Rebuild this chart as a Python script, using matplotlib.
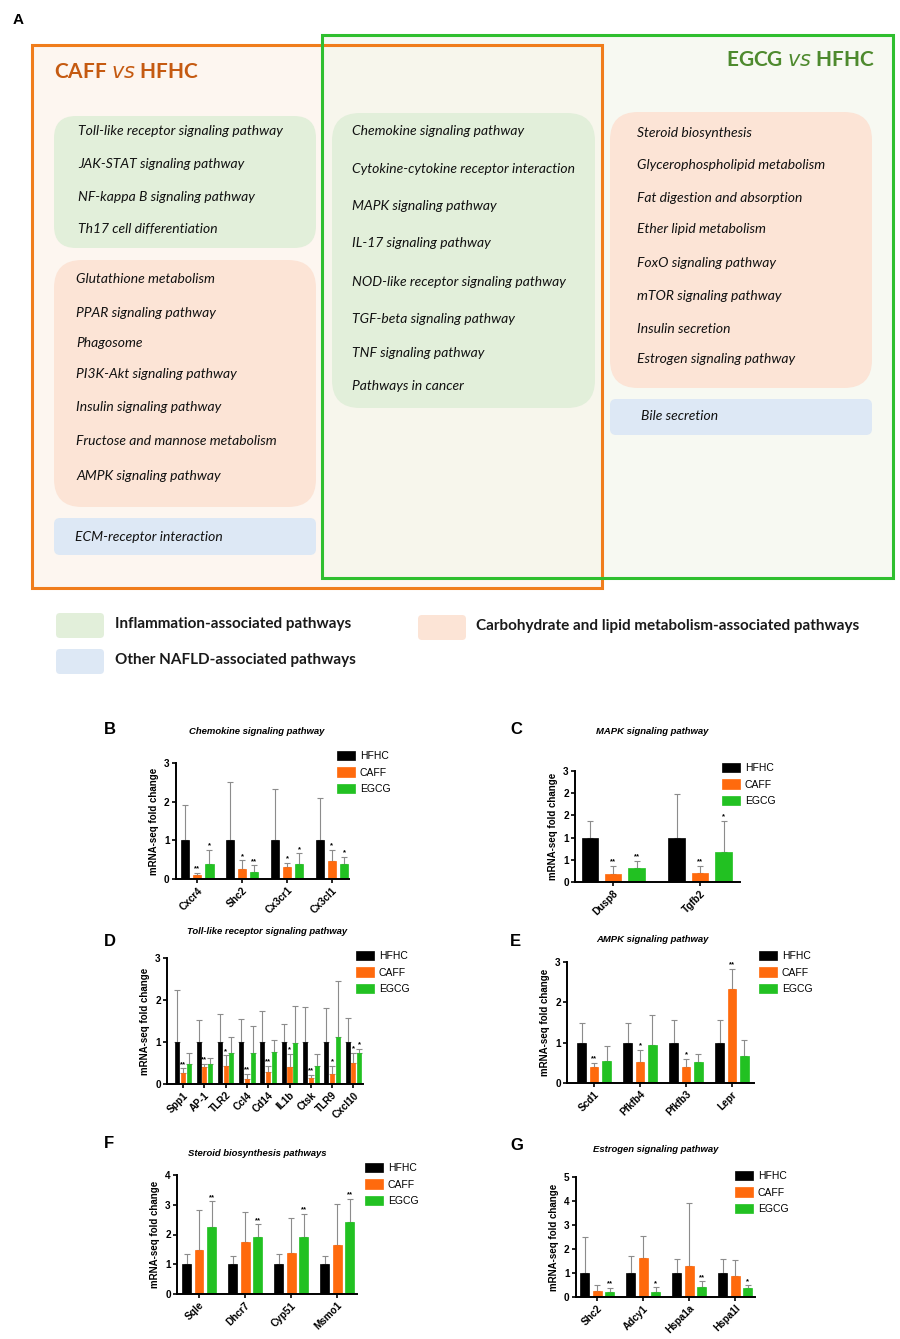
import numpy as np
import matplotlib.pyplot as plt
from matplotlib.patches import Rectangle, FancyBboxPatch

# ---------------- panel A text content ----------------
caff_inflam = ['Toll-like receptor signaling pathway', 'JAK-STAT signaling pathway',
               'NF-kappa B signaling pathway', 'Th17 cell differentiation']
caff_metab = ['Glutathione metabolism', 'PPAR signaling pathway', 'Phagosome',
              'PI3K-Akt signaling pathway', 'Insulin signaling pathway',
              'Fructose and mannose metabolism', 'AMPK signaling pathway']
caff_other = ['ECM-receptor interaction']
shared_inflam = ['Chemokine signaling pathway', 'Cytokine-cytokine receptor interaction',
                 'MAPK signaling pathway', 'IL-17 signaling pathway',
                 'NOD-like receptor signaling pathway', 'TGF-beta signaling pathway',
                 'TNF signaling pathway', 'Pathways in cancer']
egcg_metab = ['Steroid biosynthesis', 'Glycerophospholipid metabolism',
              'Fat digestion and absorption', 'Ether lipid metabolism',
              'FoxO signaling pathway', 'mTOR signaling pathway',
              'Insulin secretion', 'Estrogen signaling pathway']
egcg_other = ['Bile secretion']
legend_labels = ['Inflammation-associated pathways',
                 'Carbohydrate and lipid metabolism-associated pathways',
                 'Other NAFLD-associated pathways']

# ---------------- bar chart data (mean, upper SD) ----------------
groups = ['HFHC', 'CAFF', 'EGCG']

b_genes = ['Cxcr4', 'Shc2', 'Cx3cr1', 'Cx3cl1']
b_hfhc = [1, 1, 1, 1]
b_hfhc_sd = [0.92, 1.50, 1.34, 1.10]
b_caff = [0.10, 0.26, 0.30, 0.46]
b_caff_sd = [0.06, 0.22, 0.11, 0.30]
b_egcg = [0.38, 0.18, 0.40, 0.40]
b_egcg_sd = [0.38, 0.17, 0.26, 0.17]
b_caff_sig = ['**', '*', '*', '*']
b_egcg_sig = ['*', '**', '*', '*']

c_genes = ['Dusp8', 'Tgfb2']
c_hfhc = [1, 1]
c_hfhc_sd = [0.37, 0.99]
c_caff = [0.18, 0.20]
c_caff_sd = [0.19, 0.17]
c_egcg = [0.31, 0.67]
c_egcg_sd = [0.16, 0.70]
c_caff_sig = ['**', '**']
c_egcg_sig = ['**', '*']

d_genes = ['Spp1', 'AP-1', 'TLR2', 'Ccl4', 'Cd14', 'IL1b', 'Ctsk', 'TLR9', 'Cxcl10']
d_hfhc = [1, 1, 1, 1, 1, 1, 1, 1, 1]
d_hfhc_sd = [1.25, 0.53, 0.67, 0.54, 0.73, 0.42, 0.84, 0.82, 0.56]
d_caff = [0.27, 0.41, 0.44, 0.12, 0.29, 0.40, 0.15, 0.23, 0.49]
d_caff_sd = [0.10, 0.07, 0.24, 0.12, 0.14, 0.31, 0.06, 0.21, 0.26]
d_egcg = [0.47, 0.48, 0.73, 0.75, 0.77, 0.97, 0.44, 1.13, 0.75]
d_egcg_sd = [0.26, 0.15, 0.38, 0.63, 0.28, 0.89, 0.27, 1.33, 0.08]
d_caff_sig = ['**', '**', '*', '**', '**', '*', '**', '*', '*']
d_egcg_sig = ['', '', '', '', '', '', '', '', '*']

e_genes = ['Scd1', 'Pfkfb4', 'Pfkfb3', 'Lepr']
e_hfhc = [1, 1, 1, 1]
e_hfhc_sd = [0.49, 0.49, 0.57, 0.55]
e_caff = [0.40, 0.53, 0.40, 2.33]
e_caff_sd = [0.10, 0.30, 0.20, 0.49]
e_egcg = [0.54, 0.93, 0.53, 0.66]
e_egcg_sd = [0.37, 0.75, 0.18, 0.40]
e_caff_sig = ['**', '*', '*', '**']
e_egcg_sig = ['', '', '', '']

f_genes = ['Sqle', 'Dhcr7', 'Cyp51', 'Msmo1']
f_hfhc = [1, 1, 1, 1]
f_hfhc_sd = [0.33, 0.28, 0.33, 0.28]
f_caff = [1.47, 1.74, 1.39, 1.64]
f_caff_sd = [1.35, 1.00, 1.17, 1.38]
f_egcg = [2.24, 1.91, 1.90, 2.42]
f_egcg_sd = [0.87, 0.43, 0.80, 0.79]
f_caff_sig = ['', '', '', '']
f_egcg_sig = ['**', '**', '**', '**']

g_genes = ['Shc2', 'Adcy1', 'Hspa1a', 'Hspa1l']
g_hfhc = [1, 1, 1, 1]
g_hfhc_sd = [1.50, 0.70, 0.57, 0.58]
g_caff = [0.25, 1.63, 1.28, 0.86]
g_caff_sd = [0.23, 0.92, 2.64, 0.68]
g_egcg = [0.19, 0.21, 0.42, 0.38]
g_egcg_sd = [0.18, 0.19, 0.23, 0.10]
g_caff_sig = ['', '', '', '']
g_egcg_sig = ['**', '*', '**', '*']

W, H = 900, 1339
fig = plt.figure(figsize=(9, 13.39), dpi=100)

# ---------------- panel A (drawn in pixel coordinates) ----------------
axA = fig.add_axes([0, 0, 1, 1])
axA.set_xlim(0, W)
axA.set_ylim(H, 0)
axA.axis('off')

GREEN_FILL = '#e2efda'
ORANGE_FILL = '#fce4d6'
BLUE_FILL = '#dde8f5'

axA.add_patch(Rectangle((32, 45), 570, 543, fc='#fdf6f0', ec='none'))
axA.add_patch(Rectangle((322, 35), 571, 543, fc='#f3f6ea', ec='none', alpha=0.6))
axA.add_patch(Rectangle((32, 45), 570, 543, fc='none', ec='#f07d1c', lw=2.2))
axA.add_patch(Rectangle((322, 35), 571, 543, fc='none', ec='#2fbf2f', lw=2.2))


def rbox(x, y, w, h, color, r=22):
    axA.add_patch(FancyBboxPatch((x, y), w, h, boxstyle='round,pad=0,rounding_size=%d' % r,
                                 fc=color, ec='none'))


def items(names, x, ys):
    for name, y in zip(names, ys):
        axA.text(x, y, name, fontsize=10, fontstyle='italic', family='Lato',
                 color='#111111', va='center', ha='left')


rbox(54, 116, 262, 132, GREEN_FILL)
items(caff_inflam, 78, [131, 164, 197, 229])
rbox(54, 260, 262, 247, ORANGE_FILL, r=28)
items(caff_metab, 76, [279, 313, 343, 374, 407, 441, 476])
rbox(54, 518, 262, 37, BLUE_FILL, r=6)
items(caff_other, 75, [537])

rbox(332, 113, 263, 295, GREEN_FILL, r=28)
items(shared_inflam, 352, [131, 169, 206, 243, 282, 319, 353, 386])

rbox(610, 112, 262, 276, ORANGE_FILL, r=28)
items(egcg_metab, 637, [133, 165, 198, 229, 263, 296, 329, 359])
rbox(610, 399, 262, 36, BLUE_FILL, r=6)
items(egcg_other, 641, [416])

axA.text(13, 20, 'A', fontsize=11, fontweight='bold', family='Liberation Sans', va='center')
axA.text(54, 72, 'CAFF $\\it{vs}$ HFHC', fontsize=15, fontweight='bold', family='Lato',
         color='#c55a11', va='center')
axA.text(875, 60, 'EGCG $\\it{vs}$ HFHC', fontsize=15, fontweight='bold', family='Lato',
         color='#4e8a2e', va='center', ha='right')

leg_pos = [(56, 613, 115), (418, 615, 476), (56, 649, 115)]
leg_cols = [GREEN_FILL, ORANGE_FILL, BLUE_FILL]
for (x, y, tx), col, lab in zip(leg_pos, leg_cols, legend_labels):
    rbox(x, y, 48, 25, col, r=4)
    axA.text(tx, y + 11, lab, fontsize=11, fontweight='bold', family='Lato',
             color='#1a1a1a', va='center')

# ---------------- bar panels ----------------
COLORS = ['#000000', '#ff6a0d', '#22c122']
FONT = 'Liberation Sans'


def px_rect(L, R, T, B):
    return [L / W, 1 - B / H, (R - L) / W, (B - T) / H]


def bar_panel(rect, genes, vals, sds, sigs, xlim, ymax, yticks, ytick_labels,
              letter, letter_xy, title, title_xy, leg_xy):
    ax = fig.add_axes(rect)
    x = np.arange(len(genes))
    off = 0.27
    width = 0.19
    handles = []
    for i in range(3):
        xi = x + (i - 1) * off
        h = ax.bar(xi, vals[i], width, color=COLORS[i], edgecolor=COLORS[i], lw=0.5, zorder=2)
        handles.append(h)
        ax.errorbar(xi, vals[i], yerr=[np.zeros(len(genes)), sds[i]], fmt='none',
                    ecolor='#8c8c8c', elinewidth=0.8, capsize=2, capthick=0.8, zorder=1)
        if sigs[i] is not None:
            for xx, v, s, sg in zip(xi, vals[i], sds[i], sigs[i]):
                if sg:
                    ax.text(xx, v + s + ymax * 0.005, sg, fontsize=5.5, fontweight='bold',
                            ha='center', va='bottom', family=FONT)
    ax.set_xlim(*xlim)
    ax.set_ylim(0, ymax)
    ax.set_yticks(yticks)
    ax.set_yticklabels(ytick_labels)
    ax.set_xticks(x)
    ax.set_xticklabels(genes, rotation=45, ha='right', rotation_mode='anchor')
    for lab in ax.get_xticklabels() + ax.get_yticklabels():
        lab.set_fontsize(7.2)
        lab.set_fontweight('bold')
        lab.set_family(FONT)
    ax.tick_params(axis='both', width=1.2, length=3, pad=1.5)
    for sp in ['top', 'right']:
        ax.spines[sp].set_visible(False)
    for sp in ['left', 'bottom']:
        ax.spines[sp].set_linewidth(1.4)
    ax.set_ylabel('mRNA-seq fold change', fontsize=7, fontweight='bold', family=FONT, labelpad=4)
    ax.set_facecolor('none')
    ax.legend(handles, groups, loc='upper left',
              bbox_to_anchor=(leg_xy[0] / W, 1 - leg_xy[1] / H),
              bbox_transform=fig.transFigure, frameon=False,
              prop={'family': FONT, 'size': 7.5}, handlelength=1.7, handleheight=1.0,
              labelspacing=0.6, handletextpad=0.5, borderpad=0, borderaxespad=0)
    fig.text(letter_xy[0] / W, 1 - letter_xy[1] / H, letter, fontsize=12, fontweight='bold',
             family=FONT, va='center', ha='left')
    fig.text(title_xy[0] / W, 1 - title_xy[1] / H, title, fontsize=6.8, fontweight='bold',
             fontstyle='italic', family=FONT, va='center', ha='center')
    return ax


bar_panel(px_rect(176, 349, 763, 879), b_genes, [b_hfhc, b_caff, b_egcg],
          [b_hfhc_sd, b_caff_sd, b_egcg_sd], [None, b_caff_sig, b_egcg_sig],
          (-0.47, 3.38), 3, [0, 1, 2, 3], ['0', '1', '2', '3'],
          'B', (104, 730), 'Chemokine signaling pathway', (257, 731), (337, 751))

bar_panel(px_rect(575, 740, 771, 882), c_genes, [c_hfhc, c_caff, c_egcg],
          [c_hfhc_sd, c_caff_sd, c_egcg_sd], [None, c_caff_sig, c_egcg_sig],
          (-0.44, 1.46), 2.5, [0, 0.5, 1, 1.5, 2, 2.5], ['0', '1', '1', '2', '2', '3'],
          'C', (510, 730), 'MAPK signaling pathway', (652, 731), (722, 763))

bar_panel(px_rect(167, 363, 958, 1084), d_genes, [d_hfhc, d_caff, d_egcg],
          [d_hfhc_sd, d_caff_sd, d_egcg_sd], [None, d_caff_sig, d_egcg_sig],
          (-0.75, 8.45), 3, [0, 1, 2, 3], ['0', '1', '2', '3'],
          'D', (104, 942), 'Toll-like receptor signaling pathway', (267, 931), (356, 951))

bar_panel(px_rect(567, 754, 962, 1083), e_genes, [e_hfhc, e_caff, e_egcg],
          [e_hfhc_sd, e_caff_sd, e_egcg_sd], [None, e_caff_sig, e_egcg_sig],
          (-0.59, 3.48), 3, [0, 1, 2, 3], ['0', '1', '2', '3'],
          'E', (510, 942), 'AMPK signaling pathway', (652, 940), (759, 951))

bar_panel(px_rect(177, 357, 1175, 1294), f_genes, [f_hfhc, f_caff, f_egcg],
          [f_hfhc_sd, f_caff_sd, f_egcg_sd], [None, f_caff_sig, f_egcg_sig],
          (-0.48, 3.43), 4, [0, 1, 2, 3, 4], ['0', '1', '2', '3', '4'],
          'F', (104, 1143), 'Steroid biosynthesis pathways', (257, 1154), (365, 1163))

bar_panel(px_rect(576, 755, 1177, 1297), g_genes, [g_hfhc, g_caff, g_egcg],
          [g_hfhc_sd, g_caff_sd, g_egcg_sd], [None, g_caff_sig, g_egcg_sig],
          (-0.46, 3.43), 5, [0, 1, 2, 3, 4, 5], ['0', '1', '2', '3', '4', '5'],
          'G', (510, 1145), 'Estrogen signaling pathway', (656, 1150), (735, 1171))

fig.savefig('out.png', dpi=100, facecolor='white')
